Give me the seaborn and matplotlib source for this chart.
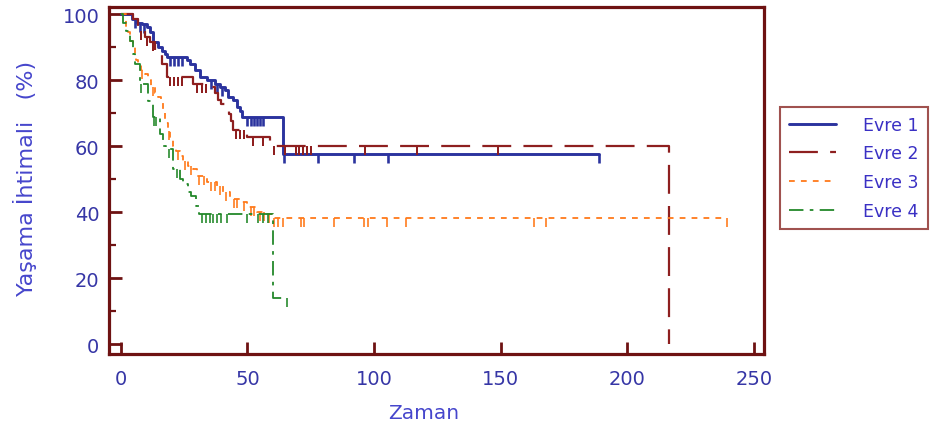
import numpy as np
import pandas as pd
import seaborn as sns
import matplotlib
matplotlib.use("Agg")
import matplotlib.pyplot as plt
from matplotlib.path import Path
from matplotlib.markers import MarkerStyle

# Kaplan-Meier step data per stage: event times, survival (%) after each event,
# last follow-up time and censoring times.
evre1_t = [4.3, 6.3, 8.3, 10.3, 11.5, 12.6, 14.6, 16.2, 17.4, 18.2, 26, 27.3, 29.2, 31.2,
           34, 37, 39, 41, 42.3, 44.3, 45.8, 47, 47.8, 64]
evre1_s = [98.5, 97.5, 97, 96, 94.5, 91.5, 90, 89, 88, 87, 86, 85, 83, 81,
           80, 79, 78, 77, 75, 74, 72, 70.6, 68.7, 57.5]
evre1_end = 189
evre1_cens = [5.5, 7.5, 9.2, 19.5, 21, 22.5, 24, 35.5, 38, 40, 50, 51.2, 52.4, 53.6,
              54.8, 56, 64.5, 78, 92, 105.5, 189]

evre2_t = [4.7, 6.7, 9.5, 11.5, 13.4, 16.2, 18.2, 28.5, 35, 37, 38.5, 39.5, 41, 42.5,
           43.5, 44.3, 49.8, 59, 216.6]
evre2_s = [98.5, 95, 93, 91.5, 88.5, 85, 81, 79, 78, 76, 74, 72.7, 71, 69.7,
           67.6, 65, 62.7, 60, 0]
evre2_end = 216.6
evre2_cens = [8, 10.5, 12.5, 19.5, 21, 22.5, 24, 30, 32, 33.5, 45.5, 47, 48.5, 52, 56,
              60.5, 65, 69, 70.5, 72, 73.5, 75, 96.5, 117, 149]

evre3_t = [2, 2.8, 3.6, 4.7, 5.5, 6, 6.7, 7.9, 9.5, 10.7, 11.9, 13.4, 14.6, 15.8, 16.6,
           17.4, 18.6, 19.4, 20.6, 21.7, 23.3, 24.5, 26.5, 28.5, 30, 34, 38, 40.3, 43,
           47, 50, 53.8, 57.7, 59.7]
evre3_s = [96, 94.5, 92, 90, 88, 86, 85, 83, 82, 80, 78, 76, 75, 73, 71,
           67, 64.5, 62, 60, 58.5, 57, 55.5, 54, 53, 51, 49, 48, 46, 44,
           43, 41.5, 40, 39.4, 38.2]
evre3_end = 239.5
evre3_cens = [8.5, 12.5, 19, 22.5, 25.5, 27.5, 31, 33, 35.5, 37, 39, 41.5, 44.5, 46,
              48.5, 51.5, 52.5, 55, 56.5, 58.5, 60.5, 62, 64, 71, 72.5, 84, 96, 97.5,
              105, 112.5, 163, 168, 239.5]

evre4_t = [0.8, 2, 3.6, 4.7, 5.5, 7.5, 10.7, 12.6, 15.4, 16.6, 17.8, 20.6, 23.3, 24.5,
           26.5, 27.7, 29.6, 31, 60]
evre4_s = [97.5, 95, 92, 88, 85, 79, 73.6, 69, 63.6, 60, 59, 53, 50, 48.5,
           46, 45, 42, 39.5, 14]
evre4_end = 65.5
evre4_cens = [8, 13, 14, 19, 22, 32, 33.5, 35, 36.5, 38, 39.5, 42, 50, 54, 56, 58, 65.5]

labels = ["Evre 1", "Evre 2", "Evre 3", "Evre 4"]
x_ticks = [0, 50, 100, 150, 200, 250]
y_ticks = [0, 20, 40, 60, 80, 100]

groups = [
    (labels[0], evre1_t, evre1_s, evre1_end, evre1_cens),
    (labels[1], evre2_t, evre2_s, evre2_end, evre2_cens),
    (labels[2], evre3_t, evre3_s, evre3_end, evre3_cens),
    (labels[3], evre4_t, evre4_s, evre4_end, evre4_cens),
]

styles = {
    "Evre 1": dict(color="#2b339e", lw=2.1, dashes=None),
    "Evre 2": dict(color="#8e1f1f", lw=1.6, dashes=(13, 5.5)),
    "Evre 3": dict(color="#ff7a1a", lw=1.3, dashes=(3.2, 3.4)),
    "Evre 4": dict(color="#23882a", lw=1.3, dashes=(8, 3.5, 2, 3.5)),
}

sns.set_theme(style="white")
plt.rcParams["font.family"] = ["DejaVu Sans"]

frame_col = "#6e1212"
tick_col = "#3636a6"
label_col = "#4646cc"

fig = plt.figure(figsize=(9.35, 4.39), dpi=100)
ax = fig.add_axes([109 / 935, 84 / 439, 655 / 935, 347 / 439])

# downward censoring tick
cens_marker = MarkerStyle(Path([(0, 0), (0, -1)]))

handles = []
for name, t, s, end, cens in groups:
    xs = [0.0] + list(t)
    ys = [100.0] + list(s)
    if end > xs[-1]:
        xs.append(end)
        ys.append(ys[-1])
    df = pd.DataFrame({"Zaman": xs, "Surv": ys})
    st = styles[name]
    sns.lineplot(data=df, x="Zaman", y="Surv", ax=ax, estimator=None, sort=False,
                 drawstyle="steps-post", color=st["color"], lw=st["lw"], legend=False)
    line = ax.lines[-1]
    if st["dashes"] is not None:
        line.set_dashes(st["dashes"])
    handles.append(line)
    # survival level at each censoring time
    tt = np.array(t)
    ss = np.array(s)
    cy = []
    for c in cens:
        idx = np.searchsorted(tt, c, side="right") - 1
        cy.append(100.0 if idx < 0 else ss[idx])
    ax.plot(cens, cy, ls="none", marker=cens_marker, ms=13, mew=st["lw"] * 0.9,
            mec=st["color"], color=st["color"])

if ax.get_legend() is not None:
    ax.get_legend().remove()

ax.set_xlim(-4.7, 254)
ax.set_ylim(-3, 102.2)
ax.set_xticks(x_ticks)
ax.set_yticks(y_ticks)
ax.set_yticks([10, 30, 50, 70, 90], minor=True)

for sp in ax.spines.values():
    sp.set_visible(True)
    sp.set_color(frame_col)
    sp.set_linewidth(2.3)

ax.tick_params(axis="both", which="major", direction="in", length=9, width=2,
               color=frame_col, labelcolor=tick_col, labelsize=14,
               left=True, bottom=True)
ax.tick_params(axis="y", which="minor", direction="in", length=5, width=1.6,
               color=frame_col, left=True)
ax.tick_params(axis="x", which="major", pad=11)
ax.tick_params(axis="y", which="major", pad=7)

ax.set_xlabel("Zaman", color=label_col, fontsize=14.5)
ax.set_ylabel("Yaşama İhtimali   (%)", color=label_col, fontsize=16)
ax.xaxis.set_label_coords(0.48, -0.14)
ax.yaxis.set_label_coords(-0.11, 0.51)

leg = fig.legend(handles=handles, labels=labels, loc="upper left",
                 bbox_to_anchor=(780 / 935, 1 - 108 / 439), borderaxespad=0,
                 fontsize=12.5, handlelength=2.7, handletextpad=1.6, labelspacing=0.62,
                 borderpad=0.5, fancybox=False, framealpha=1)
leg.get_frame().set_edgecolor("#a0524f")
leg.get_frame().set_linewidth(1.5)
for txt in leg.get_texts():
    txt.set_color("#3a30c4")

fig.savefig("out.png", dpi=100)
